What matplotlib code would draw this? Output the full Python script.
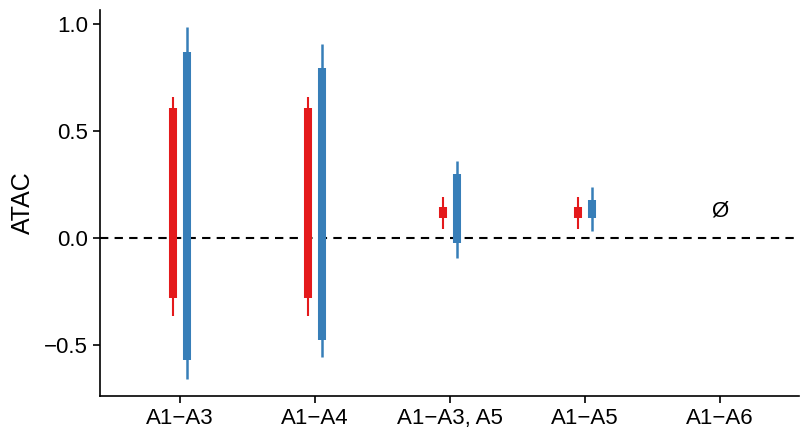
import matplotlib
matplotlib.use("Agg")
import matplotlib.pyplot as plt
import numpy as np

plt.rcParams['font.family'] = ['Liberation Sans', 'DejaVu Sans']

categories = ["A1−A3", "A1−A4", "A1−A3, A5", "A1−A5", "A1−A6"]

# red series (lower whisker, box low, box high, upper whisker)
red_lo = [-0.364, -0.364, 0.041, 0.041]
red_q1 = [-0.280, -0.280, 0.092, 0.092]
red_q3 = [0.607, 0.607, 0.146, 0.146]
red_hi = [0.659, 0.659, 0.193, 0.193]

# blue series
blue_lo = [-0.659, -0.556, -0.095, 0.030]
blue_q1 = [-0.570, -0.477, -0.025, 0.095]
blue_q3 = [0.866, 0.794, 0.298, 0.178]
blue_hi = [0.986, 0.906, 0.360, 0.237]

empty_label = "Ø"
empty_y = 0.126

RED = "#E41A1C"
BLUE = "#377EB8"

fig = plt.figure(figsize=(8, 4.28), dpi=100)
ax = fig.add_axes([0.125, 0.075, 0.874, 0.902])

x = np.arange(1, len(categories) + 1)
xr = x[:4] - 0.052
xb = x[:4] + 0.052

ax.axhline(0, color="black", linestyle=(0, (4, 3)), linewidth=1.5, zorder=1)

ax.vlines(xr, red_lo, red_hi, color=RED, linewidth=1.5, zorder=2)
ax.vlines(xr, red_q1, red_q3, color=RED, linewidth=5.8, zorder=3)
ax.vlines(xb, blue_lo, blue_hi, color=BLUE, linewidth=1.8, zorder=2)
ax.vlines(xb, blue_q1, blue_q3, color=BLUE, linewidth=5.8, zorder=3)

ax.text(x[4], empty_y, empty_label, ha="center", va="center", fontsize=16)

ax.set_xlim(0.41, 5.59)
ax.set_ylim(-0.738, 1.065)
ax.set_xticks(x)
ax.set_xticklabels(categories, fontsize=16)
ax.set_yticks([-0.5, 0.0, 0.5, 1.0])
ax.set_yticklabels(["−0.5", "0.0", "0.5", "1.0"], fontsize=16)
ax.set_ylabel("ATAC", fontsize=18, labelpad=7)
for s in ["top", "right"]:
    ax.spines[s].set_visible(False)
for s in ["left", "bottom"]:
    ax.spines[s].set_linewidth(1.2)
ax.tick_params(direction="out", length=5, width=1.2)

fig.savefig("out.png", dpi=100)
